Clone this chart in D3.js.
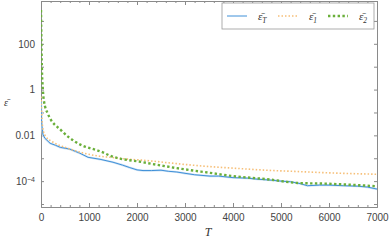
<!DOCTYPE html>
<html>
<head>
<meta charset="utf-8">
<script src="https://cdn.jsdelivr.net/npm/d3@7"></script>
<style>
  body { margin: 0; background: #fff; }
  svg { display: block; }
  .axis path, .axis line { stroke: #8a8a8a; }
  .axis text { font-family: "Liberation Sans", sans-serif; font-size: 10px; fill: #444; }
</style>
</head>
<body>
<div id="chart"></div>
<script>

// series: eps_T (blue), eps_1 (orange dotted), eps_2 (green dashed)
var tT = [0, 10, 20, 40, 80, 190, 300, 400, 600, 810, 980, 1230, 1500, 1700, 1850, 2000, 2125, 2300, 2500, 2650, 2830, 3000, 3200, 3520, 3700, 4000, 4300, 4500, 4800, 5000, 5200, 5400, 5550, 5800, 6000, 6300, 6600, 6800, 7000];
var epsT = [0.3, 0.05, 0.025, 0.011, 0.0075, 0.0045, 0.0037, 0.003, 0.0025, 0.00166, 0.0011, 0.0009, 0.00067, 0.0005, 0.00039, 0.00031, 0.00029, 0.00029, 0.0003, 0.00027, 0.00025, 0.00022, 0.00019, 0.000166, 0.000166, 0.000142, 0.000135, 0.000122, 0.00011, 0.0001, 0.000094, 0.000078, 0.000063, 0.000067, 0.000067, 0.000063, 0.00006, 0.000055, 0.000045];

var t1 = [0, 20, 50, 100, 200, 290, 500, 880, 1225, 1440, 1850, 2125, 2830, 3520, 4000, 4700, 5400, 6000, 7000];
var eps1 = [0.5, 0.05, 0.015, 0.009, 0.0058, 0.0045, 0.003, 0.0017, 0.00122, 0.0011, 0.0009, 0.00082, 0.00058, 0.00043, 0.00037, 0.0003, 0.00026, 0.00023, 0.0002];

var t2 = [0, 15, 40, 60, 140, 420, 730, 1290, 1440, 2125, 2830, 3520, 4000, 4700, 5400, 5900, 6580, 7000];
var eps2 = [3000, 18, 0.9, 0.33, 0.091, 0.0165, 0.005, 0.0018, 0.00129, 0.00067, 0.00037, 0.00023, 0.000166, 0.000122, 0.000082, 0.000078, 0.000067, 0.00006];

var xTicks = [0, 1000, 2000, 3000, 4000, 5000, 6000, 7000];
var yTicks = [1e-5, 1e-4, 1e-3, 1e-2, 1e-1, 1, 10, 100, 1000];
var yLabelled = [1e-4, 1e-2, 1, 100];

var legendNames = ['T', '1', '2'];

var widthCont = 389, heightCont = 241;
var margin = {top: 1, right: 12, bottom: 34, left: 41};
var width = widthCont - margin.left - margin.right;
var height = heightCont - margin.top - margin.bottom;

var colors = ['#3f90d8', '#f6bf78', '#6aaf3a'];

var svg = d3.select('#chart').append('svg')
  .attr('width', widthCont)
  .attr('height', heightCont);

var g = svg.append('g').attr('transform', 'translate(' + margin.left + ',' + margin.top + ')');

var x = d3.scaleLinear().domain([0, 7000]).range([0, width]);
var y = d3.scaleLog().domain([Math.pow(10, -5.13), Math.pow(10, 3.87)]).range([height, 0]);

g.append('clipPath').attr('id', 'clip')
  .append('rect').attr('width', width).attr('height', height);

// axes, ticks pointing inward
var xMinor = d3.range(0, 7001, 200).filter(function(d){ return d % 1000 !== 0; });

g.append('g').attr('class', 'axis').attr('transform', 'translate(0,' + height + ')')
  .call(d3.axisBottom(x).tickValues(xTicks).tickSize(-4).tickPadding(7).tickFormat(d3.format('d')));
g.append('g').attr('class', 'axis').attr('transform', 'translate(0,' + height + ')')
  .call(d3.axisBottom(x).tickValues(xMinor).tickSize(-2).tickFormat(''))
  .select('.domain').remove();
g.append('g').attr('class', 'axis')
  .call(d3.axisTop(x).tickValues(xTicks).tickSize(-4).tickFormat(''));
g.append('g').attr('class', 'axis')
  .call(d3.axisTop(x).tickValues(xMinor).tickSize(-2).tickFormat(''))
  .select('.domain').remove();

var yAxis = g.append('g').attr('class', 'axis')
  .call(d3.axisLeft(y).tickValues(yTicks).tickSize(-3).tickPadding(6).tickFormat(''));
yAxis.selectAll('.tick').each(function(d) {
  var lab = yLabelled.filter(function(v){ return Math.abs(Math.log10(v) - Math.log10(d)) < 1e-6; });
  if (!lab.length) return;
  var t = d3.select(this).select('text');
  var e = Math.round(Math.log10(d));
  if (e === -4) {
    t.text('10');
    t.append('tspan').attr('dy', '-0.45em').attr('font-size', '7px').text('\u22124');
  } else {
    t.text(e >= 0 ? String(Math.pow(10, e)) : '0.01');
  }
});
g.append('g').attr('class', 'axis').attr('transform', 'translate(' + width + ',0)')
  .call(d3.axisRight(y).tickValues(yTicks).tickSize(-3).tickFormat(''));

// lines
var plot = g.append('g').attr('clip-path', 'url(#clip)');

function series(ts, vs) {
  return ts.map(function(t, i){ return [t, vs[i]]; });
}

var lineLin = d3.line().x(function(d){ return x(d[0]); }).y(function(d){ return y(d[1]); });
var lineSmooth = d3.line().curve(d3.curveMonotoneX).x(function(d){ return x(d[0]); }).y(function(d){ return y(d[1]); });

plot.append('path').datum(series(tT, epsT))
  .attr('d', lineLin).attr('fill', 'none')
  .attr('stroke', '#cfe3f5').attr('stroke-width', 2.2);
plot.append('path').datum(series(tT, epsT))
  .attr('d', lineLin).attr('fill', 'none')
  .attr('stroke', colors[0]).attr('stroke-width', 1);

plot.append('path').datum(series(t1, eps1))
  .attr('d', lineSmooth).attr('fill', 'none')
  .attr('stroke', colors[1]).attr('stroke-width', 1.6)
  .attr('stroke-dasharray', '1.5,2');

plot.append('path').datum(series(t2, eps2))
  .attr('d', lineSmooth).attr('fill', 'none')
  .attr('stroke', colors[2]).attr('stroke-width', 2.4)
  .attr('stroke-dasharray', '2.4,2.4');

// legend
var leg = svg.append('g').attr('transform', 'translate(222,3)');
leg.append('rect').attr('width', 152).attr('height', 26)
  .attr('fill', '#fff').attr('stroke', '#999').attr('stroke-width', 0.8);

var legX = [5, 56, 106];
var dash = [null, '1.5,2', '2.4,2.4'];
var sw = [1, 1.6, 2.4];
legendNames.forEach(function(n, i) {
  var e = leg.append('g').attr('transform', 'translate(' + legX[i] + ',13)');
  e.append('line').attr('x1', 0).attr('x2', 20).attr('y1', 0).attr('y2', 0)
    .attr('stroke', colors[i]).attr('stroke-width', sw[i])
    .attr('stroke-dasharray', dash[i]);
  var t = e.append('text').attr('x', 31).attr('y', 4)
    .attr('font-family', '"Liberation Serif", serif').attr('font-size', '11px')
    .attr('font-style', 'italic').attr('fill', '#333');
  t.append('tspan').text('\u03b5\u0304');
  t.append('tspan').attr('dy', '2.5').attr('font-size', '7.5px').text(n);
});

// axis titles
svg.append('text').attr('x', 208).attr('y', 236)
  .attr('text-anchor', 'middle')
  .attr('font-family', '"Liberation Serif", serif').attr('font-size', '12px')
  .attr('font-style', 'italic').attr('fill', '#333').text('T');

svg.append('text').attr('x', 6).attr('y', 106)
  .attr('text-anchor', 'middle')
  .attr('font-family', '"Liberation Serif", serif').attr('font-size', '10px')
  .attr('font-style', 'italic').attr('fill', '#333').text('\u03b5\u0304');

</script>
</body>
</html>
